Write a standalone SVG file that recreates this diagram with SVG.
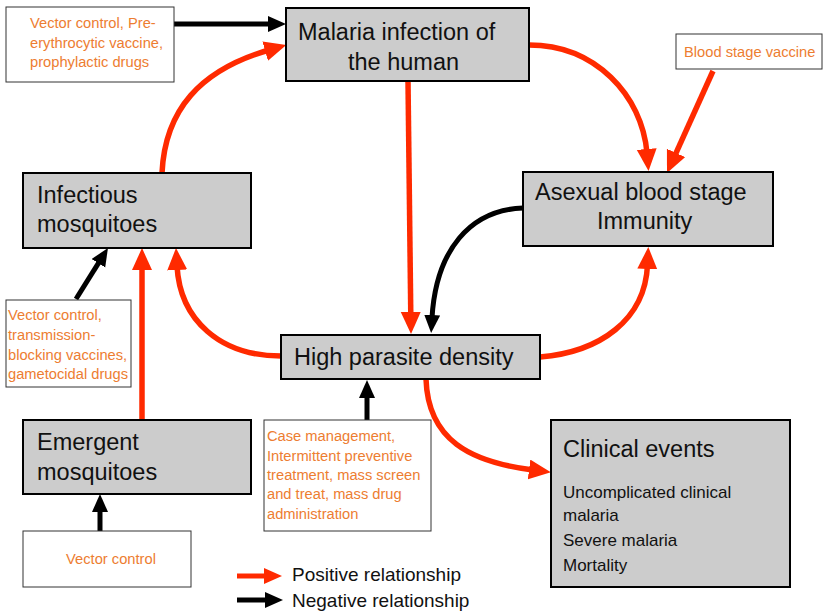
<svg xmlns="http://www.w3.org/2000/svg" width="824" height="611" viewBox="0 0 824 611">
  <style>
    .node { fill: #cccccc; stroke: #000; stroke-width: 2; }
    .note { fill: #fff; stroke: #333; stroke-width: 1; }
    .title { font-family: "Liberation Sans", Arial, sans-serif; font-size: 23.5px; fill: #111; }
    .sub { font-family: "Liberation Sans", Arial, sans-serif; font-size: 17px; fill: #111; }
    .int { font-family: "Liberation Sans", Arial, sans-serif; font-size: 14.7px; fill: #ed7d31; }
    .legend { font-family: "Liberation Sans", Arial, sans-serif; font-size: 19px; fill: #111; }
    .pos { fill: none; stroke: #ff2a00; stroke-width: 5.5; marker-end: url(#headPos); }
    .neg { fill: none; stroke: #000; stroke-width: 5; marker-end: url(#headNeg); }
  </style>
  <defs>
    <marker id="headPos" markerUnits="userSpaceOnUse" markerWidth="24" markerHeight="22" refX="4" refY="10" orient="auto">
      <path d="M0,0 L22,10 L0,20 z" fill="#ff2a00"/>
    </marker>
    <marker id="headNeg" markerUnits="userSpaceOnUse" markerWidth="20" markerHeight="18" refX="3" refY="8" orient="auto">
      <path d="M0,0 L18,8 L0,16 z" fill="#000"/>
    </marker>
    <marker id="headPosSmall" markerUnits="userSpaceOnUse" markerWidth="20" markerHeight="18" refX="3" refY="8" orient="auto">
      <path d="M0,0 L18,8 L0,16 z" fill="#ff2a00"/>
    </marker>
  </defs>

  <!-- connectors -->
  <g id="connectors">
    <line class="neg" x1="174" y1="24" x2="271" y2="24"/>
    <path class="pos" d="M162,173 C165,110 200,70 269,50"/>
    <path class="pos" d="M529,45 C595,45 642,95 647,153"/>
    <line class="pos" x1="713" y1="71" x2="674.4" y2="156.6"/>
    <line class="pos" x1="408" y1="81" x2="410.8" y2="316"/>
    <path class="neg" d="M523,208 C470,210 436,250 432,318"/>
    <path class="pos" d="M540,357 C600,352 645,320 647.5,265"/>
    <path class="pos" d="M281,356 C220,356 180,320 177,266"/>
    <line class="pos" x1="142" y1="420" x2="142" y2="266"/>
    <line class="neg" x1="76" y1="299" x2="100" y2="260.7"/>
    <line class="neg" x1="367" y1="420" x2="367" y2="395"/>
    <path class="pos" d="M426,379 C428,440 470,462 533,470"/>
    <line class="neg" x1="100" y1="531" x2="100" y2="509"/>
  </g>

  <g id="malaria-infection">
    <rect class="node" x="286" y="8" width="243" height="73"/>
    <text class="title" x="298" y="40">Malaria infection of</text>
    <text class="title" x="348" y="70">the human</text>
  </g>

  <g id="asexual-immunity">
    <rect class="node" x="523" y="172" width="250" height="74"/>
    <text class="title" x="535" y="200">Asexual blood stage</text>
    <text class="title" x="597" y="229">Immunity</text>
  </g>

  <g id="infectious-mosquitoes">
    <rect class="node" x="23" y="173" width="228" height="75"/>
    <text class="title" x="37" y="203">Infectious</text>
    <text class="title" x="37" y="232">mosquitoes</text>
  </g>

  <g id="high-parasite-density">
    <rect class="node" x="281" y="335" width="259" height="44"/>
    <text class="title" x="294" y="365">High parasite density</text>
  </g>

  <g id="emergent-mosquitoes">
    <rect class="node" x="23" y="420" width="228" height="74"/>
    <text class="title" x="37" y="450">Emergent</text>
    <text class="title" x="37" y="480">mosquitoes</text>
  </g>

  <g id="clinical-events">
    <rect class="node" x="551" y="420" width="239" height="167"/>
    <text class="title" x="563" y="457">Clinical events</text>
    <text class="sub" x="563" y="498">Uncomplicated clinical</text>
    <text class="sub" x="563" y="521">malaria</text>
    <text class="sub" x="563" y="546">Severe malaria</text>
    <text class="sub" x="563" y="571">Mortality</text>
  </g>

  <g id="pre-erythrocytic-interventions">
    <rect class="note" x="6" y="7" width="168" height="75"/>
    <text class="int" x="30" y="28">Vector control, Pre-</text>
    <text class="int" x="30" y="48">erythrocytic vaccine,</text>
    <text class="int" x="30" y="67">prophylactic drugs</text>
  </g>

  <g id="blood-stage-vaccine">
    <rect class="note" x="676" y="34" width="146" height="35"/>
    <text class="int" x="684" y="57">Blood stage vaccine</text>
  </g>

  <g id="transmission-interventions">
    <rect class="note" x="6" y="300" width="125" height="87"/>
    <text class="int" x="8" y="320">Vector control,</text>
    <text class="int" x="8" y="340">transmission-</text>
    <text class="int" x="8" y="360">blocking vaccines,</text>
    <text class="int" x="8" y="379">gametocidal drugs</text>
  </g>

  <g id="treatment-interventions">
    <rect class="note" x="264" y="420" width="167" height="111"/>
    <text class="int" x="267" y="441">Case management,</text>
    <text class="int" x="267" y="461">Intermittent preventive</text>
    <text class="int" x="267" y="480">treatment, mass screen</text>
    <text class="int" x="267" y="499">and treat, mass drug</text>
    <text class="int" x="267" y="519">administration</text>
  </g>

  <g id="vector-control">
    <rect class="note" x="23" y="531" width="168" height="56"/>
    <text class="int" x="111" y="564" text-anchor="middle">Vector control</text>
  </g>

  <g id="legend">
    <line x1="237" y1="576" x2="267" y2="576" stroke="#ff2a00" stroke-width="5" marker-end="url(#headPosSmall)"/>
    <line x1="237" y1="600" x2="268" y2="600" stroke="#000" stroke-width="5" marker-end="url(#headNeg)"/>
    <text class="legend" x="292" y="581">Positive relationship</text>
    <text class="legend" x="292" y="607">Negative relationship</text>
  </g>
</svg>
